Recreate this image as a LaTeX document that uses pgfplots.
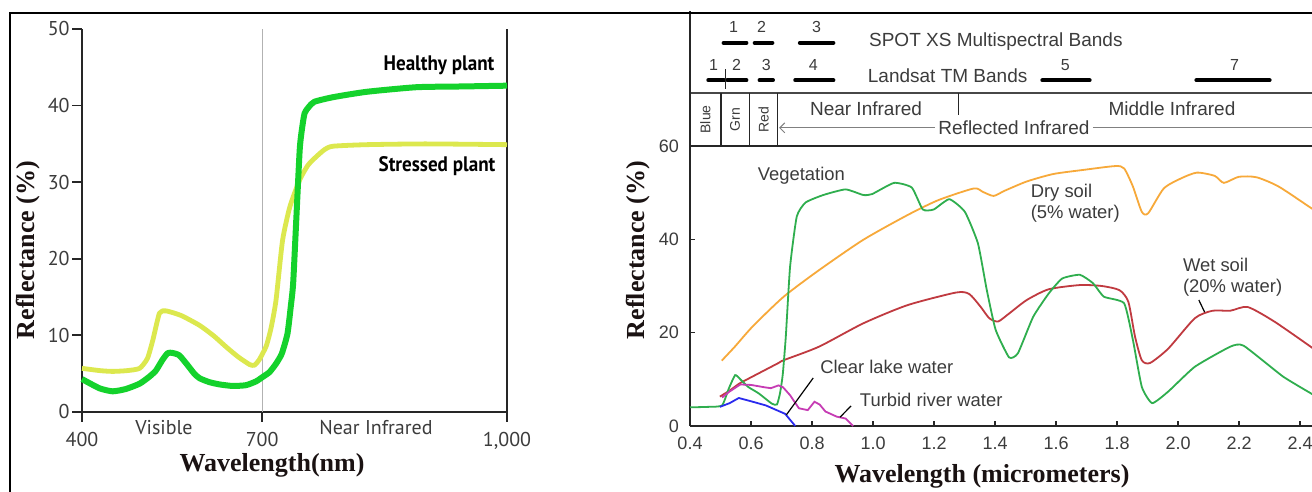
\documentclass[border=0pt]{standalone}
\usepackage{fontspec}
\setmainfont{Liberation Serif}
\newfontfamily\pts{PT Sans}
\newfontfamily\ars{Liberation Sans}
\usepackage{pgfplots}
\pgfplotsset{compat=1.18}
\usetikzlibrary{arrows.meta}
\definecolor{healthy}{HTML}{14D22C}
\definecolor{stressed}{HTML}{DCE84E}
\definecolor{veg}{HTML}{2FAE4E}
\definecolor{drysoil}{HTML}{F7A93A}
\definecolor{wetsoil}{HTML}{C03A40}
\definecolor{turbid}{HTML}{C63CB4}
\definecolor{clearw}{HTML}{2A2AEE}
\definecolor{txt}{HTML}{3C3C3C}
\definecolor{axl}{HTML}{262626}
\definecolor{lab}{HTML}{1A1212}
\tikzset{ann/.style={font=\ars\fontsize{9.2}{10}\selectfont, text=txt},
         num/.style={font=\ars\fontsize{8}{9}\selectfont, text=txt}}

\begin{document}
\begin{tikzpicture}[x=1pt,y=1pt]
\useasboundingbox (0,0) rectangle (656,246);
\clip (0,0) rectangle (656,246);
\fill[white] (0,0) rectangle (656,246);

% ---------------- left panel ----------------
\begin{axis}[
  at={(41pt,40pt)}, anchor=south west,
  scale only axis, width=212.5pt, height=191.5pt,
  x coord trafo/.code={\pgfmathparse{#1>700 ? 700+(#1-700)*1.3593 : #1}},
  xmin=400, xmax=1000, ymin=0, ymax=50,
  axis lines=left,
  axis line style={-, axl, line width=1pt},
  xtick={400,700,1000}, xticklabels={400,700,{1,000}},
  ytick={0,10,20,30,40,50},
  tick align=outside, major tick length=5pt,
  tick style={axl, line width=0.9pt},
  ticklabel style={font=\pts\fontsize{10}{11}\selectfont, text=txt},
  /pgf/number format/assume math mode=true,
  yticklabel style={inner sep=1pt},
  xticklabel style={yshift=-1.5pt},
  clip=false,
]
\draw[gray!60, line width=0.4pt] (axis cs:700,0) -- (axis cs:700,50);
\draw[axl, line width=1pt] (axis cs:1000,0) -- (axis cs:1000,50);
% stressed plant
\addplot[stressed, line width=2.4pt, line join=round, smooth, tension=0.35] coordinates {
(400,5.7) (430,5.4) (451,5.3) (475,5.4) (496,5.7) (509,7.0) (518,9.4) (529,12.9)
(540,13.2) (565,12.6) (596,11.3) (620,9.9) (640,8.5) (660,7.2) (679,6.2) (687,6.1)
(695,6.8) (705,8.6) (711,11.0) (717,14.6) (725,22.4) (734,26.8) (746,30.3) (756,32.2)
(766,33.3) (777,34.3) (787,34.7) (828,34.9) (900,35.0) (1000,34.9)};
% healthy plant
\addplot[healthy, line width=3pt, line join=round, smooth, tension=0.35] coordinates {
(400,4.3) (429,3.1) (451,2.7) (473,3.0) (496,3.7) (512,4.6) (523,5.4) (534,6.8)
(543,7.7) (551,7.7) (562,7.4) (576,6.1) (587,5.0) (596,4.4) (612,3.9) (629,3.6)
(651,3.4) (673,3.5) (690,4.0) (701,4.6) (709,5.2) (717,6.3) (724,7.6) (731,10.2)
(735,13.7) (738,16.8) (742,25.5) (746,34.2) (748.6,36.8) (752,39.0) (757,39.8)
(764,40.5) (787,41.1) (828,41.8) (889,42.4) (946,42.5) (1000,42.6)};
\end{axis}

\node[font=\bfseries\fontsize{13}{14}\selectfont, text=lab, rotate=90] at (14,121) {Reflectance (\%)};
\node[font=\bfseries\fontsize{13}{14}\selectfont, text=lab] at (136,13.5) {Wavelength(nm)};
\node[font=\pts\bfseries\fontsize{10.5}{12}\selectfont, text=black, xscale=0.91] at (219.5,213.5) {Healthy plant};
\node[font=\pts\bfseries\fontsize{10.5}{12}\selectfont, text=black, xscale=0.91] at (218.5,163) {Stressed plant};
\node[font=\pts\fontsize{10}{11}\selectfont, text=txt] at (82,32) {Visible};
\node[font=\pts\fontsize{10}{11}\selectfont, text=txt] at (188,32) {Near Infrared};

% ---------------- right panel ----------------
\begin{axis}[
  at={(345pt,33pt)}, anchor=south west,
  scale only axis, width=311pt, height=140pt,
  xmin=0.4, xmax=2.439, ymin=0, ymax=60,
  axis lines=left,
  axis line style={-, axl, line width=1pt},
  xtick={0.4,0.6,0.8,1.0,1.2,1.4,1.6,1.8,2.0,2.2,2.4},
  xticklabels={0.4,0.6,0.8,1.0,1.2,1.4,1.6,1.8,2.0,2.2,2.4},
  ytick={0,20,40,60},
  tick align=inside, major tick length=2.5pt,
  tick style={axl, line width=0.8pt},
  ticklabel style={font=\ars\fontsize{9}{10}\selectfont, text=txt},
  /pgf/number format/assume math mode=true,
  xticklabel style={yshift=-2pt},
  yticklabel style={xshift=-2pt},
  clip=false,
]
% dry soil
\addplot[drysoil, line width=0.9pt, smooth, tension=0.4] coordinates {
(0.504,14.0) (0.547,17.0) (0.605,21.3) (0.707,27.7) (0.823,33.4) (0.968,39.9)
(1.113,45.2) (1.214,48.4) (1.33,50.9) (1.359,50.2) (1.395,49.3) (1.431,50.4)
(1.504,52.4) (1.591,54.0) (1.692,54.9) (1.794,55.7) (1.823,55.2) (1.852,51.3)
(1.881,45.9) (1.902,45.6) (1.953,50.9) (2.011,53.1) (2.062,54.3) (2.12,53.6)
(2.15,52.1) (2.199,53.4) (2.257,53.3) (2.33,51.3) (2.443,46.4) (2.46,45.8)};
% wet soil
\addplot[wetsoil, line width=0.9pt, smooth, tension=0.4] coordinates {
(0.498,6.3) (0.53,7.6) (0.562,9.1) (0.605,10.6) (0.69,13.5) (0.707,14.1) (0.823,17.0)
(0.968,22.0) (1.113,25.9) (1.272,28.6) (1.315,28.3) (1.352,25.6) (1.381,23.1)
(1.41,22.4) (1.446,24.1) (1.504,27.0) (1.576,29.3) (1.678,30.2) (1.75,30.0)
(1.808,29.1) (1.837,26.6) (1.859,19.1) (1.881,14.1) (1.908,13.5) (1.968,16.6)
(2.055,23.1) (2.113,24.7) (2.171,24.7) (2.228,25.5) (2.315,22.4) (2.443,16.6) (2.46,15.6)};
% vegetation
\addplot[veg, line width=0.9pt, smooth, tension=0.3] coordinates {
(0.4,4.0) (0.46,4.1) (0.505,4.4) (0.527,8.0) (0.548,10.9) (0.565,10.0) (0.59,8.4)
(0.625,7.0) (0.668,4.8) (0.685,4.6) (0.695,7.0) (0.704,11.0) (0.714,19.1)
(0.728,34.1) (0.75,44.9) (0.779,47.9) (0.837,49.5) (0.91,50.7) (0.968,49.5)
(0.997,49.7) (1.069,52.1) (1.127,51.1) (1.163,46.4) (1.199,46.4) (1.25,48.6)
(1.301,45.9) (1.344,39.1) (1.373,29.1) (1.402,20.6) (1.446,14.7) (1.475,15.6)
(1.525,23.4) (1.576,28.4) (1.62,31.6) (1.678,32.4) (1.721,30.6) (1.757,27.7)
(1.823,26.3) (1.852,18.4) (1.881,8.4) (1.915,4.9) (1.968,7.4) (2.055,12.7)
(2.171,17.0) (2.215,17.2) (2.344,10.6) (2.443,6.7) (2.46,6.0)};
% turbid river water
\addplot[turbid, line width=0.9pt] coordinates {
(0.505,6.1) (0.53,7.4) (0.565,8.9) (0.60,8.8) (0.644,8.3) (0.665,8.1) (0.69,8.7)
(0.705,8.3) (0.728,6.6) (0.757,3.8) (0.786,3.4) (0.808,5.2) (0.825,4.6) (0.844,3.1)
(0.881,2.0) (0.91,1.6) (0.935,0)};
% clear lake water
\addplot[clearw, line width=0.9pt] coordinates {
(0.498,4.1) (0.53,4.9) (0.56,6.0) (0.6,5.3) (0.649,4.4) (0.712,2.6) (0.745,0)};

% annotations
\node[ann] at (axis cs:0.765,53.6) {Vegetation};
\node[ann, anchor=west] at (axis cs:1.494,49.9) {Dry soil};
\node[ann, anchor=west] at (axis cs:1.494,45.4) {(5\% water)};
\node[ann, anchor=west] at (axis cs:1.993,34.5) {Wet soil};
\node[ann, anchor=west] at (axis cs:1.993,29.6) {(20\% water)};
\node[ann, anchor=west] at (axis cs:0.804,12.6) {Clear lake water};
\node[ann, anchor=west] at (axis cs:0.934,5.6) {Turbid river water};
\draw[black, line width=0.6pt] (axis cs:0.804,10.3) -- (axis cs:0.716,2.4);
\draw[black, line width=0.6pt] (axis cs:0.928,4.3) -- (axis cs:0.892,1.9);
\draw[black, line width=0.6pt] (axis cs:2.068,27.0) -- (axis cs:2.087,24.4);

% band box
\draw[axl, line width=1.1pt] (axis cs:0.4,60) -- (axis cs:2.5,60);
\draw[axl!85, line width=1.1pt] (axis cs:0.4,71.35) -- (axis cs:2.5,71.35);
\draw[axl, line width=1pt] (axis cs:0.4,60) -- (axis cs:0.4,89);
\draw[axl, line width=0.8pt] (axis cs:0.501,60) -- (axis cs:0.501,71.35);
\draw[axl, line width=0.8pt] (axis cs:0.595,60) -- (axis cs:0.595,71.35);
\draw[axl, line width=0.8pt] (axis cs:0.687,60) -- (axis cs:0.687,71.35);
\draw[axl, line width=0.8pt] (axis cs:1.28,71.35) -- (axis cs:1.28,66.6);
\node[rotate=90, font=\ars\fontsize{7}{8}\selectfont, text=txt] at (axis cs:0.45,65.7) {Blue};
\node[rotate=90, font=\ars\fontsize{7}{8}\selectfont, text=txt] at (axis cs:0.548,65.7) {Grn};
\node[rotate=90, font=\ars\fontsize{7}{8}\selectfont, text=txt] at (axis cs:0.641,65.7) {Red};
\node[font=\ars\fontsize{9.5}{10}\selectfont, text=txt] at (axis cs:0.977,67.9) {Near Infrared};
\node[font=\ars\fontsize{9.5}{10}\selectfont, text=txt] at (axis cs:1.98,67.9) {Middle Infrared};
\node[font=\ars\fontsize{9.5}{10}\selectfont, text=txt, inner sep=1.5pt] (refl) at (axis cs:1.462,63.9) {Reflected Infrared};
\draw[gray, line width=0.5pt, {Straight Barb[length=2.5pt,width=5pt]}-] (axis cs:0.692,63.9) -- (refl.west);
\draw[gray, line width=0.5pt] (refl.east) -- (axis cs:2.5,63.9);
% SPOT XS bands
\draw[black, line width=2pt, line cap=round] (axis cs:0.51,82.1) -- (axis cs:0.585,82.1);
\draw[black, line width=2pt, line cap=round] (axis cs:0.612,82.1) -- (axis cs:0.67,82.1);
\draw[black, line width=2pt, line cap=round] (axis cs:0.76,82.1) -- (axis cs:0.87,82.1);
\node[num] at (axis cs:0.543,85.6) {1};
\node[num] at (axis cs:0.635,85.6) {2};
\node[num] at (axis cs:0.815,85.6) {3};
\node[anchor=west, font=\ars\fontsize{9.5}{10}\selectfont, text=txt] at (axis cs:0.964,82.3) {SPOT XS Multispectral Bands};
% Landsat TM bands
\draw[black, line width=2pt, line cap=round] (axis cs:0.46,74.1) -- (axis cs:0.512,74.1);
\draw[black, line width=2pt, line cap=round] (axis cs:0.522,74.1) -- (axis cs:0.585,74.1);
\draw[black, line width=2pt, line cap=round] (axis cs:0.628,74.1) -- (axis cs:0.672,74.1);
\draw[black, line width=2pt, line cap=round] (axis cs:0.745,74.1) -- (axis cs:0.87,74.1);
\draw[black, line width=2pt, line cap=round] (axis cs:1.555,74.1) -- (axis cs:1.71,74.1);
\draw[black, line width=2pt, line cap=round] (axis cs:2.06,74.1) -- (axis cs:2.30,74.1);
\draw[axl, line width=0.5pt] (axis cs:0.517,72.3) -- (axis cs:0.517,76.5);
\node[num] at (axis cs:0.477,77.4) {1};
\node[num] at (axis cs:0.553,77.4) {2};
\node[num] at (axis cs:0.65,77.4) {3};
\node[num] at (axis cs:0.804,77.4) {4};
\node[num] at (axis cs:1.63,77.4) {5};
\node[num] at (axis cs:2.185,77.4) {7};
\node[anchor=west, font=\ars\fontsize{9.5}{10}\selectfont, text=txt] at (axis cs:0.96,75.0) {Landsat TM Bands};
\end{axis}

\node[font=\bfseries\fontsize{13}{14}\selectfont, text=lab, rotate=90] at (319,121) {Reflectance (\%)};
\node[font=\bfseries\fontsize{13}{14}\selectfont, text=lab] at (491,8) {Wavelength (micrometers)};

% outer frame
\draw[black, line width=0.8pt] (5,-2) -- (5,239.5) -- (660,239.5);
\end{tikzpicture}
\end{document}
